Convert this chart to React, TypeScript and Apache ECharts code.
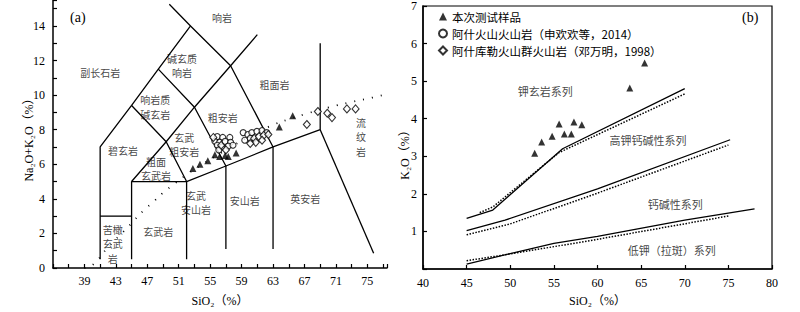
import React, { useEffect, useRef } from "react";
import * as echarts from "echarts";

const FONT = "'Liberation Serif','DejaVu Serif','Noto Sans CJK SC',serif";
const CJK = "'Noto Sans CJK SC','Liberation Serif',serif";

// ---------- (a) TAS diagram ----------
const tasXTicks = [39, 43, 47, 51, 55, 59, 63, 67, 71, 75];
const tasYTicks = [0, 2, 4, 6, 8, 10, 12, 14];

const tasLine1 = [[41, 0.5], [41, 7], [45, 9.4], [48.4, 11.5], [52.5, 14], [49.8, 15.25]];
const tasLine2 = [[41, 3], [45, 3]];
const tasLine3 = [[45, 0.5], [45, 5], [52, 5], [52, 0.5]];
const tasLine4 = [[45, 5], [49.4, 7.3], [53, 9.3], [57.6, 11.7], [61, 13.5]];
const tasLine5 = [[45, 9.4], [49.4, 7.3], [52, 5]];
const tasLine6 = [[48.4, 11.5], [53, 9.3], [57, 5.9]];
const tasLine7 = [[52.5, 14], [57.6, 11.7], [63, 7]];
const tasLine8 = [[52, 5], [57, 5.9], [63, 7], [69, 8], [69, 13]];
const tasLine9 = [[57, 5.9], [57, 1.1]];
const tasLine10 = [[63, 7], [63, 1.1]];
const tasLine11 = [[69, 8], [75.8, 0.85]];
const tasBoundaries = [tasLine1, tasLine2, tasLine3, tasLine4, tasLine5, tasLine6, tasLine7, tasLine8, tasLine9, tasLine10, tasLine11];

const alkalineDivide = [
  [39, 0], [40.1, 0.2], [42, 1.2], [44.4, 2.3], [45.2, 2.7], [46.7, 3.4], [47.6, 3.75],
  [49, 4.35], [50.1, 4.75], [52, 5.4], [54, 6.0], [56, 6.55], [58, 7.1], [60, 7.6],
  [62.6, 8.2], [65, 8.6], [67.1, 8.9], [70.2, 9.3], [73, 9.6], [75.6, 9.85], [77, 10.0],
];

const samplesTAS = [
  [52.8, 5.75], [53.7, 6.0], [54.7, 6.2], [55.6, 6.55], [56.2, 6.45], [56.9, 6.5],
  [57.3, 6.45], [58.3, 6.65], [63.8, 8.15], [65.5, 8.8],
];
const ashiTAS = [
  [55.9, 7.6], [56.6, 7.55], [57.5, 7.55], [55.6, 7.33], [56.2, 7.27], [56.9, 7.33],
  [57.6, 7.27], [55.9, 7.1], [56.5, 7.0], [57.3, 7.05], [57.9, 7.1], [56.1, 6.83],
  [59.2, 7.83], [59.8, 7.72], [60.3, 7.83], [60.95, 7.9], [61.6, 7.95], [62.2, 7.83],
  [59.4, 7.39], [60.1, 7.5],
];
const ashikuleTAS = [
  [60.6, 7.5], [61.2, 7.6], [61.8, 7.67], [60.8, 7.27], [61.6, 7.39], [62.4, 7.72],
  [60.1, 7.2], [55.4, 7.55], [56.4, 7.1], [57.0, 6.83],
  [67.3, 8.3], [68.7, 9.05], [69.9, 8.95], [70.5, 8.7], [72.4, 9.2], [73.5, 9.2],
];

const tasFieldNames = [
  "副长石岩", "响岩", "碱玄质\n响岩", "响岩质\n碱玄岩", "粗面岩", "粗安岩", "玄武\n粗安岩",
  "碧玄岩", "粗面\n玄武岩", "玄武\n安山岩", "安山岩", "英安岩", "流\n纹\n岩", "苦橄\n玄武\n岩", "玄武岩",
];
const tasFieldAt = [
  [41.0, 11.3], [56.5, 14.5], [51.4, 11.7], [48.0, 9.3], [63.2, 10.6], [56.6, 8.7], [51.7, 7.15],
  [43.9, 6.8], [48.1, 5.75], [53.2, 3.8], [59.4, 3.9], [67.1, 4.0], [74.2, 7.6], [42.6, 1.4], [48.4, 2.1],
];

// ---------- (b) K2O - SiO2 diagram ----------
const kXTicks = [40, 45, 50, 55, 60, 65, 70, 75, 80];
const kYTicks = [1, 2, 3, 4, 5, 6, 7];

const kSolid1 = [[45, 1.35], [48, 1.57], [56, 3.2], [70, 4.8]];
const kDotted1 = [[46.5, 1.5], [48, 1.65], [55.6, 3.1], [70, 4.66]];
const kSolid2 = [[45, 1.02], [49.4, 1.3], [60, 2.13], [75.2, 3.44]];
const kDotted2 = [[45, 0.91], [50, 1.2], [60, 2.02], [75, 3.3]];
const kSolid3 = [[45, 0.13], [50, 0.41], [55, 0.68], [60, 0.87], [70, 1.3], [78, 1.6]];
const kDotted3 = [[45, 0.22], [50, 0.4], [60, 0.79], [75, 1.41]];

const samplesK = [
  [52.8, 3.08], [53.6, 3.38], [54.8, 3.53], [55.6, 3.86], [56.2, 3.59], [57.0, 3.59],
  [57.3, 3.91], [58.2, 3.84], [63.7, 4.82], [65.4, 5.48],
];

const kFieldNames = ["钾玄岩系列", "高钾钙碱性系列", "钙碱性系列", "低钾（拉斑）系列"];
const kFieldAt = [[54.0, 4.75], [65.8, 3.44], [68.9, 1.74], [68.5, 0.5]];

const legendNames = [
  "本次测试样品",
  "阿什火山火山岩（申欢欢等，2014）",
  "阿什库勒火山群火山岩（邓万明，1998）",
];

export default function App() {
  const ref = useRef<HTMLDivElement>(null);
  useEffect(() => {
    if (!ref.current) return;
    const chart = echarts.init(ref.current, undefined, { renderer: "svg" });

    const lineSeries = (data: number[][], gi: number, dotted = false, width = 1.3) => ({
      type: "line",
      xAxisIndex: gi,
      yAxisIndex: gi,
      data,
      symbol: "none",
      silent: true,
      lineStyle: { color: "#000", width, type: dotted ? "dotted" : "solid" },
      z: 2,
    });

    const axisCommon = {
      type: "value",
      axisLine: { lineStyle: { color: "#000", width: 1.5 } },
      axisTick: { inside: true, length: 4, lineStyle: { color: "#000", width: 1.2 } },
      splitLine: { show: false },
      nameTextStyle: { color: "#000", fontSize: 12, fontFamily: FONT },
    };
    const lab = (ticks: number[], margin: number) => ({
      color: "#000",
      fontSize: 12,
      fontFamily: FONT,
      margin,
      showMinLabel: true,
      showMaxLabel: true,
      formatter: (v: number) => (ticks.some((t) => Math.abs(t - v) < 1e-6) ? String(v) : ""),
    });

    const fieldSeries = (names: string[], at: number[][], gi: number, size: number, lh: number) => ({
      type: "scatter",
      xAxisIndex: gi,
      yAxisIndex: gi,
      silent: true,
      symbolSize: 1,
      itemStyle: { color: "rgba(0,0,0,0)" },
      data: names.map((n, i) => ({ name: n, value: at[i] })),
      label: {
        show: true,
        position: "inside",
        formatter: "{b}",
        color: "#111",
        fontSize: size,
        fontFamily: CJK,
        lineHeight: lh,
        align: "center",
        verticalAlign: "middle",
      },
      z: 1,
    });

    const option: any = {
      animation: false,
      textStyle: { fontFamily: FONT },
      grid: [
        { left: 53, top: 0, width: 334, height: 277, show: false },
        { left: 423, top: 2, width: 349, height: 277, show: true, borderColor: "#000", borderWidth: 1.2 },
      ],
      xAxis: [
        {
          ...axisCommon, gridIndex: 0, min: 35, max: 77.5, interval: 2,
          axisLabel: lab(tasXTicks, 7),
          name: "SiO₂（%）", nameLocation: "middle", nameGap: 27,
        },
        {
          ...axisCommon, gridIndex: 1, min: 40, max: 80, interval: 5,
          axisLabel: lab(kXTicks, 8),
          name: "SiO₂（%）", nameLocation: "middle", nameGap: 26,
        },
      ],
      yAxis: [
        {
          ...axisCommon, gridIndex: 0, min: 0, max: 15.5, interval: 1,
          axisLabel: lab(tasYTicks, 8),
        },
        {
          ...axisCommon, gridIndex: 1, min: 0, max: 7, interval: 1,
          axisLabel: lab(kYTicks, 6),
        },
      ],
      legend: {
        orient: "vertical",
        left: 433,
        top: 3,
        itemWidth: 8,
        itemHeight: 8,
        itemGap: 0,
        data: legendNames,
        textStyle: { color: "#000", fontSize: 11.5, fontFamily: CJK, lineHeight: 17 },
        selectedMode: false,
      },
      graphic: [
        { type: "text", left: 70, top: 10, style: { text: "(a)", font: `14px ${FONT}`, fill: "#000" } },
        { type: "text", left: 742, top: 10, style: { text: "(b)", font: `14px ${FONT}`, fill: "#000" } },
        {
          type: "text", x: 29, y: 137, rotation: Math.PI / 2,
          style: { text: "Na₂O+K₂O（%）", font: `12px ${FONT}`, fill: "#000", align: "center", verticalAlign: "middle" },
        },
        {
          type: "text", x: 405, y: 152, rotation: Math.PI / 2,
          style: { text: "K₂O（%）", font: `12px ${FONT}`, fill: "#000", align: "center", verticalAlign: "middle" },
        },
      ],
      series: [
        ...tasBoundaries.map((d) => lineSeries(d, 0)),
        {
          type: "line", xAxisIndex: 0, yAxisIndex: 0, data: alkalineDivide, symbol: "none",
          smooth: true, silent: true,
          lineStyle: { color: "#000", width: 1.8, type: [1, 8] },
        },
        fieldSeries(tasFieldNames, tasFieldAt, 0, 10, 14.5),
        lineSeries(kSolid1, 1), lineSeries(kDotted1, 1, true, 1.5),
        lineSeries(kSolid2, 1), lineSeries(kDotted2, 1, true, 1.5),
        lineSeries(kSolid3, 1), lineSeries(kDotted3, 1, true, 1.5),
        fieldSeries(kFieldNames, kFieldAt, 1, 11, 16),
        {
          name: legendNames[1], type: "scatter", xAxisIndex: 0, yAxisIndex: 0, data: ashiTAS,
          symbol: "circle", symbolSize: 6,
          itemStyle: { color: "#fff", borderColor: "#000", borderWidth: 1.1 }, z: 5,
        },
        {
          name: legendNames[2], type: "scatter", xAxisIndex: 0, yAxisIndex: 0, data: ashikuleTAS,
          symbol: "diamond", symbolSize: [7, 8],
          itemStyle: { color: "#fff", borderColor: "#000", borderWidth: 1.1 }, z: 5,
        },
        {
          name: legendNames[0], type: "scatter", xAxisIndex: 0, yAxisIndex: 0, data: samplesTAS,
          symbol: "triangle", symbolSize: 7, itemStyle: { color: "#000" }, z: 6,
        },
        {
          name: legendNames[0], type: "scatter", xAxisIndex: 1, yAxisIndex: 1, data: samplesK,
          symbol: "triangle", symbolSize: 7, itemStyle: { color: "#000" }, z: 6,
        },
      ],
    };
    chart.setOption(option);
    return () => chart.dispose();
  }, []);
  return (
    <div
      ref={ref}
      style={{ position: "absolute", left: 0, top: 0, width: 800, height: 312, background: "#fff" }}
    />
  );
}
